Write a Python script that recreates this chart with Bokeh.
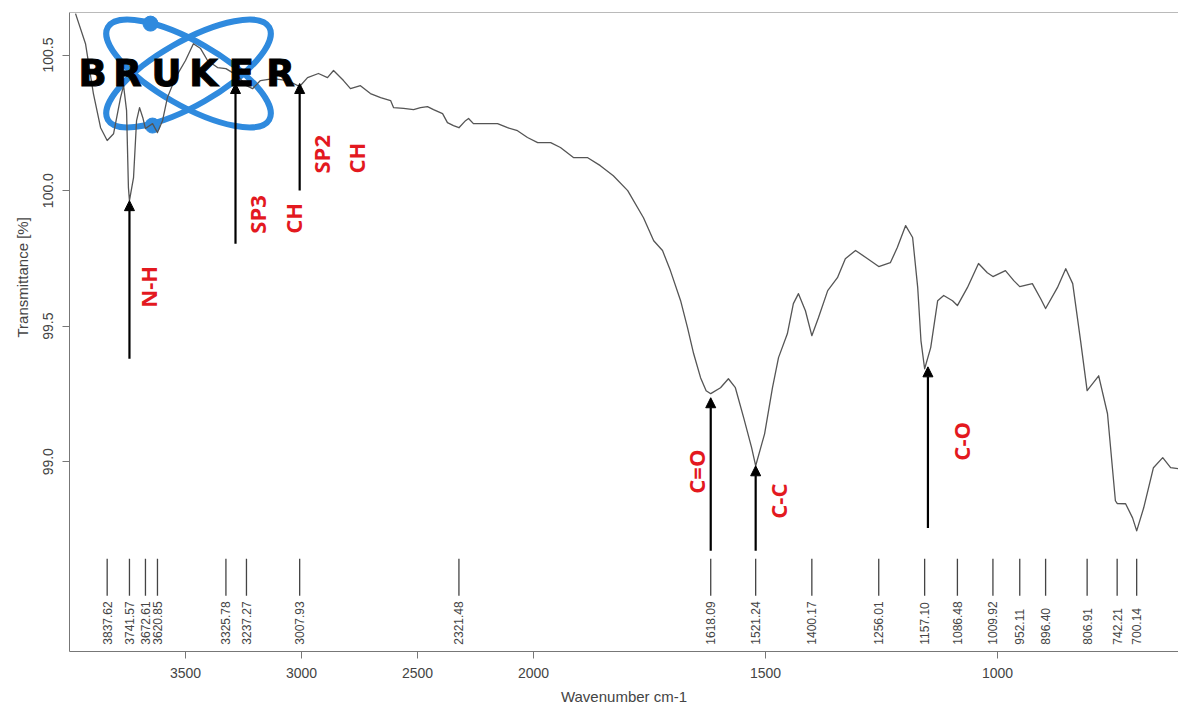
import numpy as np
from bokeh.plotting import figure
from bokeh.models import Range1d, FixedTicker, PrintfTickFormatter, Span, Arrow, NormalHead, Title
from bokeh.core.properties import value
from bokeh.embed import file_html
from bokeh.resources import INLINE

# ---------------- data ----------------
wavenumber = [3974, 3931, 3897, 3866, 3837.6, 3810, 3780, 3767, 3754, 3746, 3741.6, 3724, 3711, 3698,
              3684, 3672.6, 3642, 3620.9, 3599, 3578, 3543, 3500, 3466, 3435, 3405, 3362, 3325.8, 3276,
              3237.3, 3211, 3177, 3121, 3060, 3007.9, 2974, 2927, 2888, 2862, 2819, 2789, 2746, 2703,
              2659, 2616, 2603, 2560, 2517, 2487, 2457, 2431, 2392, 2371, 2345, 2321.5, 2293, 2280,
              2259, 2228, 2185, 2155, 2112, 2069, 2026, 1991, 1963, 1942, 1914, 1884, 1856, 1828,
              1797, 1763, 1741, 1722, 1705, 1683, 1668, 1655, 1640, 1628, 1618.1, 1597, 1580, 1565,
              1547, 1530, 1521.2, 1502, 1485, 1472, 1453, 1440, 1429, 1414, 1400.2, 1386, 1366, 1345,
              1328, 1306, 1280, 1256, 1231, 1216, 1198, 1183, 1172, 1165, 1157.1, 1144, 1129,
              1116, 1097, 1086.5, 1065, 1041, 1022, 1009.9, 983, 965, 952.1, 925, 907, 896.4, 871,
              853, 838, 821, 806.9, 782, 763, 746, 742.2, 724, 709, 700.1, 685, 664, 644, 627, 610]
transmittance = [100.653, 100.542, 100.358, 100.232, 100.185, 100.210, 100.343, 100.387, 100.295, 100.011,
                 99.963, 100.048, 100.258, 100.306, 100.269, 100.229, 100.247, 100.214, 100.258, 100.343,
                 100.417, 100.480, 100.542, 100.524, 100.480, 100.454, 100.450, 100.424, 100.387, 100.376,
                 100.406, 100.413, 100.406, 100.384, 100.417, 100.432, 100.417, 100.443, 100.406, 100.376,
                 100.387, 100.358, 100.343, 100.332, 100.306, 100.303, 100.299, 100.306, 100.310, 100.299,
                 100.284, 100.251, 100.240, 100.232, 100.258, 100.266, 100.247, 100.247, 100.247, 100.247,
                 100.232, 100.221, 100.196, 100.177, 100.177, 100.159, 100.122, 100.122, 100.092, 100.055,
                 100.000, 99.900, 99.815, 99.779, 99.705, 99.594, 99.494, 99.399, 99.310, 99.262,
                 99.251, 99.273, 99.306, 99.273, 99.162, 99.052, 98.985, 99.103, 99.273, 99.384,
                 99.472, 99.583, 99.620, 99.557, 99.465, 99.531, 99.631, 99.679, 99.749, 99.779,
                 99.749, 99.720, 99.734, 99.790, 99.871, 99.827, 99.642, 99.446, 99.343, 99.421,
                 99.594, 99.613, 99.594, 99.576, 99.642, 99.731, 99.697, 99.683, 99.705,
                 99.668, 99.646, 99.657, 99.601, 99.565, 99.642, 99.712, 99.657, 99.446, 99.262,
                 99.317, 99.177, 98.856, 98.846, 98.845, 98.793, 98.745, 98.830, 98.978, 99.015,
                 98.978, 98.974]

peak_wn = [3837.62, 3741.57, 3672.61, 3620.85, 3325.78, 3237.27, 3007.93, 2321.48, 1618.09, 1521.24,
           1400.17, 1256.01, 1157.10, 1086.48, 1009.92, 952.11, 896.40, 806.91, 742.21, 700.14]
peak_labels = ["%.2f" % w for w in peak_wn]

xtick_wn = [3500, 3000, 2500, 2000, 1500, 1000]
ytick_vals = [99.0, 99.5, 100.0, 100.5]

# annotation (bond assignment) labels
ann_text = ["N-H", "SP3", "CH", "SP2", "CH", "C=O", "C-C", "C-O"]
ann_wn = [3659.5, 3189.7, 3038.8, 2918.1, 2767.2, 1650.9, 1474.1, 1079.7]
ann_y = [99.568, 99.841, 99.841, 100.063, 100.063, 98.882, 98.790, 99.004]

arrow_wn = [3741.57, 3284.5, 3007.93, 1618.09, 1521.24, 1150.0]
arrow_from = [99.38, 99.804, 100.0, 98.672, 98.672, 98.756]
arrow_to = [99.963, 100.395, 100.395, 99.236, 98.985, 99.35]

# logo
logo_letters = list("BRUKER")
logo_letter_wn = [3900.9, 3750.0, 3582.0, 3422.4, 3258.6, 3090.5]
logo_center_wn = 3487
logo_center_y = 100.432
logo_dot_wn = [3650.9, 3642.2]
logo_dot_y = [100.616, 100.240]


def to_u(w):
    """Bruker-style axis: the region above 2000 cm-1 is compressed by a factor 2."""
    w = np.asarray(w, dtype=float)
    return np.where(w > 2000, 2000 + (w - 2000) / 2.0, w)


GREY = "#444444"
AXIS = "#777777"
RED = "#e3191f"
BLUE = "#2f8ade"

p = figure(width=1178, height=709,
           x_range=Range1d(3000, 610), y_range=Range1d(98.30, 100.657),
           output_backend="svg", toolbar_location=None,
           min_border_left=69, min_border_right=0, min_border_top=12, min_border_bottom=58)
p.outline_line_color = None
p.xgrid.visible = False
p.ygrid.visible = False
p.background_fill_color = "white"
p.border_fill_color = "white"

# x axis
xt = [int(v) for v in to_u(xtick_wn)]
p.xaxis.ticker = FixedTicker(ticks=xt)
p.xaxis.major_label_overrides = {u: str(w) for u, w in zip(xt, xtick_wn)}
p.xaxis.axis_label = "Wavenumber cm-1"
# y axis
p.yaxis.ticker = FixedTicker(ticks=ytick_vals)
p.yaxis.formatter = PrintfTickFormatter(format="%.1f")
p.yaxis.major_label_orientation = "vertical"

for ax in (p.xaxis[0], p.yaxis[0]):
    ax.axis_line_color = AXIS
    ax.major_tick_line_color = AXIS
    ax.major_tick_out = 7
    ax.major_tick_in = 0
    ax.minor_tick_out = 0
    ax.minor_tick_in = 0
    ax.major_label_text_font = "Liberation Sans"
    ax.major_label_text_font_size = "14px"
    ax.major_label_text_color = GREY
    ax.major_label_standoff = 9
    ax.axis_label_text_font = "Liberation Sans"
    ax.axis_label_text_font_size = "15px"
    ax.axis_label_text_font_style = "normal"
    ax.axis_label_text_color = GREY
    ax.axis_label_standoff = 7

p.add_layout(Span(location=100.657, dimension="width", line_color=AXIS, line_width=1.2))

ytitle = Title(text="Transmittance [%]", align="left", offset=314,
               text_font="Liberation Sans", text_font_size="15px",
               text_font_style="normal", text_color=GREY)
if "standoff" in ytitle.properties():
    ytitle.standoff = 20
p.add_layout(ytitle, "left")

# logo rings (behind the spectrum)
cu = float(to_u(logo_center_wn))
p.ellipse(x=[cu, cu], y=[logo_center_y, logo_center_y], width=186, height=64,
          width_units="screen", height_units="screen", angle=[-0.52, 0.52],
          fill_color=None, line_color=BLUE, line_width=6)
p.scatter(x=to_u(logo_dot_wn), y=logo_dot_y, size=15, color=BLUE)

# spectrum
p.line(to_u(wavenumber), transmittance, line_color="#555555", line_width=1.3,
       line_join="round")

# logo text
logo_r = p.text(x=to_u(logo_letter_wn), y=[logo_center_y] * len(logo_letters), text=logo_letters,
                text_align="center", text_baseline="middle", text_font=value("DejaVu Sans"),
                text_font_style="bold", text_font_size="37px", text_color="black")
if "text_outline_color" in logo_r.glyph.properties():
    logo_r.glyph.text_outline_color = "black"

# peak markers
pu = to_u(peak_wn)
p.segment(x0=pu, y0=[98.506] * len(pu), x1=pu, y1=[98.642] * len(pu), line_color=GREY, line_width=1.3)
p.text(x=pu, y=[98.325] * len(pu), text=peak_labels, angle=np.pi / 2, text_align="left",
       text_baseline="middle", text_font=value("Liberation Sans"), text_font_size="12px",
       text_color=GREY)

# arrows
for w, y0, y1 in zip(arrow_wn, arrow_from, arrow_to):
    x = float(to_u(w))
    p.add_layout(Arrow(end=NormalHead(size=10, fill_color="black", line_color="black"),
                       x_start=x, y_start=y0, x_end=x, y_end=y1,
                       line_color="black", line_width=2.2))

# assignment labels
p.text(x=to_u(ann_wn), y=ann_y, text=ann_text, angle=np.pi / 2, text_align="left",
       text_baseline="middle", text_font=value("Open Sans"), text_font_style="bold",
       text_font_size="22px", text_color=RED)

open("out.html", "w").write(file_html(p, INLINE))
